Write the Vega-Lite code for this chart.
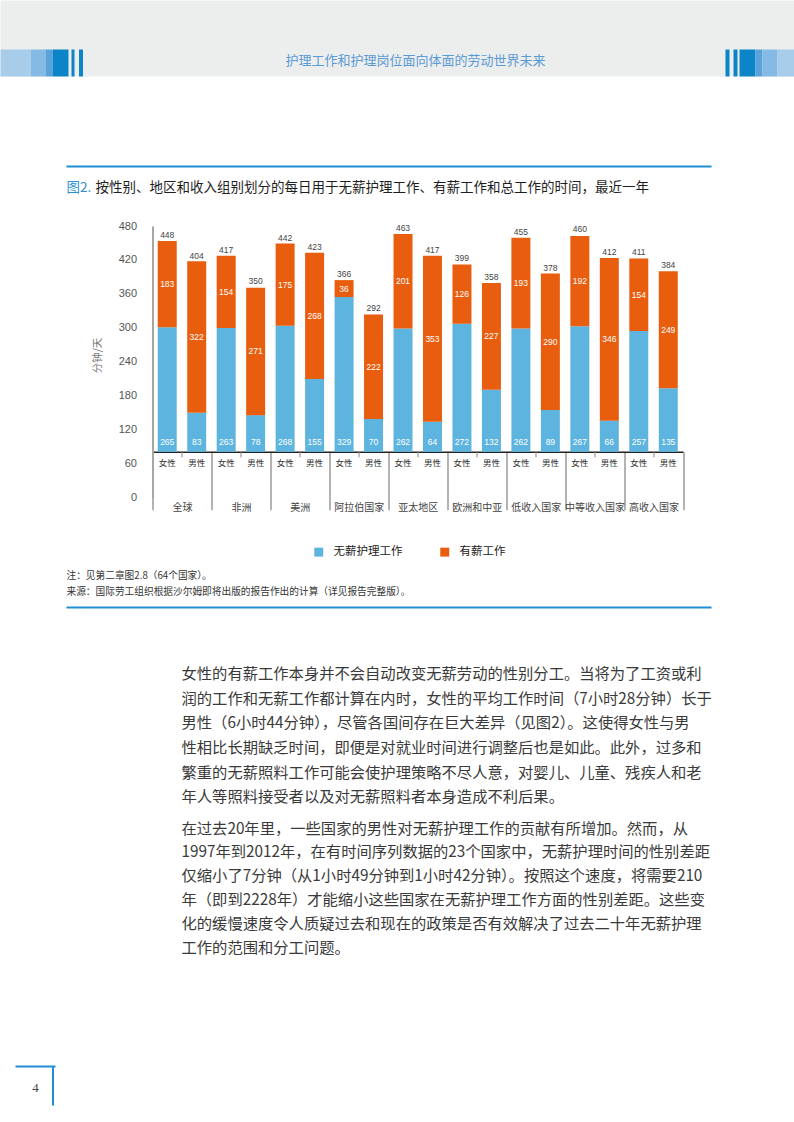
{
  "$schema": "https://vega.github.io/schema/vega-lite/v6.json",
  "width": 530.5,
  "height": 271,
  "autosize": {"type": "none"},
  "padding": {"left": 152.5, "top": 226, "right": 111, "bottom": 625},
  "background": "white",
  "config": {
    "view": {"stroke": null},
    "font": "Noto Sans CJK SC",
    "axis": {"labelFont": "Noto Sans CJK SC", "titleFont": "Noto Sans CJK SC", "grid": false, "titleFontWeight": "normal"},
    "axisY": {"labelOverlap": false, "tickCount": 20},
    "legend": {"labelFont": "Noto Sans CJK SC"}
  },
  "data": {
    "values": [
      {"group": "全球", "sex": "女性", "unpaid": 265, "paid": 183, "total": 448},
      {"group": "全球", "sex": "男性", "unpaid": 83, "paid": 322, "total": 404},
      {"group": "非洲", "sex": "女性", "unpaid": 263, "paid": 154, "total": 417},
      {"group": "非洲", "sex": "男性", "unpaid": 78, "paid": 271, "total": 350},
      {"group": "美洲", "sex": "女性", "unpaid": 268, "paid": 175, "total": 442},
      {"group": "美洲", "sex": "男性", "unpaid": 155, "paid": 268, "total": 423},
      {"group": "阿拉伯国家", "sex": "女性", "unpaid": 329, "paid": 36, "total": 366},
      {"group": "阿拉伯国家", "sex": "男性", "unpaid": 70, "paid": 222, "total": 292},
      {"group": "亚太地区", "sex": "女性", "unpaid": 262, "paid": 201, "total": 463},
      {"group": "亚太地区", "sex": "男性", "unpaid": 64, "paid": 353, "total": 417},
      {"group": "欧洲和中亚", "sex": "女性", "unpaid": 272, "paid": 126, "total": 399},
      {"group": "欧洲和中亚", "sex": "男性", "unpaid": 132, "paid": 227, "total": 358},
      {"group": "低收入国家", "sex": "女性", "unpaid": 262, "paid": 193, "total": 455},
      {"group": "低收入国家", "sex": "男性", "unpaid": 89, "paid": 290, "total": 378},
      {"group": "中等收入国家", "sex": "女性", "unpaid": 267, "paid": 192, "total": 460},
      {"group": "中等收入国家", "sex": "男性", "unpaid": 66, "paid": 346, "total": 412},
      {"group": "高收入国家", "sex": "女性", "unpaid": 257, "paid": 154, "total": 411},
      {"group": "高收入国家", "sex": "男性", "unpaid": 135, "paid": 249, "total": 384}
    ]
  },
  "resolve": {"scale": {"x": "independent"}, "axis": {"x": "independent"}},
  "layer": [
    {
      "encoding": {
        "x": {
          "field": "group", "type": "nominal",
          "scale": {"domain": ["全球", "非洲", "美洲", "阿拉伯国家", "亚太地区", "欧洲和中亚", "低收入国家", "中等收入国家", "高收入国家"], "paddingInner": 0, "paddingOuter": 0},
          "axis": {
            "orient": "bottom", "offset": -45.2,
            "domainColor": "#222222", "domainWidth": 1.5,
            "tickBand": "extent", "tickSize": 58, "tickColor": "#9a9a9a", "tickWidth": 1.5,
            "labelPadding": -7, "labelFontSize": 10, "labelColor": "#444444", "labelAngle": 0, "labelLimit": 70,
            "title": [
              "女性的有薪工作本身并不会自动改变无薪劳动的性别分工。当将为了工资或利",
              "润的工作和无薪工作都计算在内时，女性的平均工作时间（7小时28分钟）长于",
              "男性（6小时44分钟），尽管各国间存在巨大差异（见图2）。这使得女性与男",
              "性相比长期缺乏时间，即便是对就业时间进行调整后也是如此。此外，过多和",
              "繁重的无薪照料工作可能会使护理策略不尽人意，对婴儿、儿童、残疾人和老",
              "年人等照料接受者以及对无薪照料者本身造成不利后果。"
            ],
            "titleX": 28.5, "titleY": 215, "titleAlign": "left", "titleBaseline": "top",
            "titleFontSize": 15.3, "titleLineHeight": 24.6, "titleColor": "#3a3a3a"
          }
        },
        "xOffset": {"field": "sex", "type": "nominal", "scale": {"domain": ["女性", "男性"], "paddingInner": 0.356, "paddingOuter": 0.178}}
      },
      "layer": [
        {
          "transform": [{"fold": ["unpaid", "paid"], "as": ["type", "minutes"]}],
          "mark": {"type": "bar"},
          "encoding": {
            "y": {
              "field": "minutes", "type": "quantitative", "stack": "zero", "title": "分钟/天",
              "scale": {"domain": [-96, 480], "nice": false, "zero": false},
              "axis": {
                "orient": "left", "values": [480, 408, 336, 264, 192, 120, 48, -24, -96], "tickCount": 20,
                "labelExpr": "format((datum.value + 96) * 5 / 6, 'd')", "labelOverlap": false,
                "domainColor": "#a6a6a6", "domainWidth": 2, "ticks": false,
                "labelPadding": 16, "labelFontSize": 11, "labelColor": "#555555", "labelFont": "Liberation Sans",
                "titleX": -55.5, "titleY": 129, "titleAlign": "center", "titleBaseline": "middle", "titleAngle": 270,
                "titleFontSize": 10.5, "titleColor": "#777777"
              }
            },
            "color": {
              "field": "type", "type": "nominal",
              "scale": {"domain": ["unpaid", "paid"], "range": ["#5DB4DE", "#E85D0E"]},
              "legend": {
                "orient": "none", "legendX": 160.5, "legendY": 320, "direction": "horizontal", "title": null,
                "symbolType": "square", "symbolSize": 80, "symbolStrokeWidth": 0,
                "labelFontSize": 11.5, "labelColor": "#222222", "columnPadding": 36, "labelOffset": 9,
                "labelExpr": "datum.value === 'unpaid' ? '无薪护理工作' : '有薪工作'"
              }
            },
            "order": {"field": "type", "sort": "descending"}
          }
        },
        {
          "transform": [{"fold": ["unpaid", "paid"], "as": ["type", "minutes"]}],
          "mark": {"type": "text", "color": "white", "fontSize": 8.5, "font": "Liberation Sans", "baseline": "middle"},
          "encoding": {
            "y": {"field": "minutes", "type": "quantitative", "stack": "zero", "bandPosition": 0.5, "title": "分钟/天"},
            "detail": {"field": "type"},
            "order": {"field": "type", "sort": "descending"},
            "text": {"condition": {"test": "datum.type === 'paid'", "field": "minutes", "type": "quantitative"}, "value": ""}
          }
        },
        {
          "mark": {"type": "text", "color": "white", "fontSize": 8.5, "font": "Liberation Sans", "baseline": "middle", "dy": -10},
          "encoding": {
            "y": {"datum": 0, "type": "quantitative", "title": "分钟/天"},
            "text": {"field": "unpaid", "type": "quantitative"}
          }
        },
        {
          "mark": {"type": "text", "color": "#444444", "fontSize": 8.5, "font": "Liberation Sans", "baseline": "middle", "dy": -6},
          "encoding": {
            "y": {"field": "total", "type": "quantitative", "title": "分钟/天"},
            "text": {"field": "total", "type": "quantitative"}
          }
        },
        {
          "mark": {"type": "text", "color": "#333333", "fontSize": 8.5, "baseline": "middle"},
          "encoding": {
            "y": {"datum": -23.4, "type": "quantitative", "title": "分钟/天"},
            "text": {"field": "sex", "type": "nominal"}
          }
        }
      ]
    },
    {
      "mark": {"type": "point", "opacity": 0},
      "encoding": {
        "x": {
          "field": "group", "type": "nominal",
          "scale": {"domain": ["全球", "非洲", "美洲", "阿拉伯国家", "亚太地区", "欧洲和中亚", "低收入国家", "中等收入国家", "高收入国家"], "paddingInner": 0, "paddingOuter": 0},
          "axis": {
            "orient": "bottom", "offset": -45.2, "domain": false, "labels": false,
            "ticks": true, "tickSize": 5, "tickColor": "#9a9a9a", "tickWidth": 1.2,
            "title": [
              "在过去20年里，一些国家的男性对无薪护理工作的贡献有所增加。然而，从",
              "1997年到2012年，在有时间序列数据的23个国家中，无薪护理时间的性别差距",
              "仅缩小了7分钟（从1小时49分钟到1小时42分钟）。按照这个速度，将需要210",
              "年（即到2228年）才能缩小这些国家在无薪护理工作方面的性别差距。这些变",
              "化的缓慢速度令人质疑过去和现在的政策是否有效解决了过去二十年无薪护理",
              "工作的范围和分工问题。"
            ],
            "titleX": 28.5, "titleY": 369.4, "titleAlign": "left", "titleBaseline": "top",
            "titleFontSize": 15.3, "titleLineHeight": 23.8, "titleColor": "#3a3a3a"
          }
        }
      }
    },
    {
      "mark": {"type": "point", "opacity": 0},
      "encoding": {
        "x": {
          "field": "group", "type": "nominal", "sort": null,
          "scale": {"range": [-152.5, 641.5], "paddingInner": 0, "paddingOuter": 0},
          "axis": {
            "orient": "top", "offset": 188, "domainColor": "#ECEDED", "domainWidth": 76,
            "ticks": false, "labels": false,
            "title": "护理工作和护理岗位面向体面的劳动世界未来",
            "titleX": 262.5, "titleY": 22, "titleAlign": "center", "titleBaseline": "middle",
            "titleFontSize": 13, "titleColor": "#5B9BD5"
          }
        }
      }
    },
    {"mark": {"type": "point", "opacity": 0}, "encoding": {"x": {"field": "group", "type": "nominal", "sort": null, "scale": {"range": [-152.5, -122.5]}, "axis": {"orient": "top", "offset": 163.5, "domainColor": "#A8CDEA", "domainWidth": 27, "ticks": false, "labels": false, "title": null}}}},
    {"mark": {"type": "point", "opacity": 0}, "encoding": {"x": {"field": "group", "type": "nominal", "sort": null, "scale": {"range": [-122.5, -107.5]}, "axis": {"orient": "top", "offset": 163.5, "domainColor": "#85BAE4", "domainWidth": 27, "ticks": false, "labels": false, "title": null}}}},
    {"mark": {"type": "point", "opacity": 0}, "encoding": {"x": {"field": "group", "type": "nominal", "sort": null, "scale": {"range": [-107.5, -100.5]}, "axis": {"orient": "top", "offset": 163.5, "domainColor": "#5AA3DA", "domainWidth": 27, "ticks": false, "labels": false, "title": null}}}},
    {"mark": {"type": "point", "opacity": 0}, "encoding": {"x": {"field": "group", "type": "nominal", "sort": null, "scale": {"range": [-100.5, -84.5]}, "axis": {"orient": "top", "offset": 163.5, "domainColor": "#0B85C8", "domainWidth": 27, "ticks": false, "labels": false, "title": null}}}},
    {"mark": {"type": "point", "opacity": 0}, "encoding": {"x": {"field": "group", "type": "nominal", "sort": null, "scale": {"range": [-81.5, -78.5]}, "axis": {"orient": "top", "offset": 163.5, "domainColor": "#0B85C8", "domainWidth": 27, "ticks": false, "labels": false, "title": null}}}},
    {"mark": {"type": "point", "opacity": 0}, "encoding": {"x": {"field": "group", "type": "nominal", "sort": null, "scale": {"range": [-74, -70]}, "axis": {"orient": "top", "offset": 163.5, "domainColor": "#0B85C8", "domainWidth": 27, "ticks": false, "labels": false, "title": null}}}},
    {"mark": {"type": "point", "opacity": 0}, "encoding": {"x": {"field": "group", "type": "nominal", "sort": null, "scale": {"range": [572.5, 576.5]}, "axis": {"orient": "top", "offset": 163.5, "domainColor": "#0B85C8", "domainWidth": 27, "ticks": false, "labels": false, "title": null}}}},
    {"mark": {"type": "point", "opacity": 0}, "encoding": {"x": {"field": "group", "type": "nominal", "sort": null, "scale": {"range": [580.5, 584.5]}, "axis": {"orient": "top", "offset": 163.5, "domainColor": "#0B85C8", "domainWidth": 27, "ticks": false, "labels": false, "title": null}}}},
    {"mark": {"type": "point", "opacity": 0}, "encoding": {"x": {"field": "group", "type": "nominal", "sort": null, "scale": {"range": [586.5, 602.5]}, "axis": {"orient": "top", "offset": 163.5, "domainColor": "#0B85C8", "domainWidth": 27, "ticks": false, "labels": false, "title": null}}}},
    {"mark": {"type": "point", "opacity": 0}, "encoding": {"x": {"field": "group", "type": "nominal", "sort": null, "scale": {"range": [602.5, 609.5]}, "axis": {"orient": "top", "offset": 163.5, "domainColor": "#5AA3DA", "domainWidth": 27, "ticks": false, "labels": false, "title": null}}}},
    {"mark": {"type": "point", "opacity": 0}, "encoding": {"x": {"field": "group", "type": "nominal", "sort": null, "scale": {"range": [609.5, 624.5]}, "axis": {"orient": "top", "offset": 163.5, "domainColor": "#85BAE4", "domainWidth": 27, "ticks": false, "labels": false, "title": null}}}},
    {"mark": {"type": "point", "opacity": 0}, "encoding": {"x": {"field": "group", "type": "nominal", "sort": null, "scale": {"range": [624.5, 641.5]}, "axis": {"orient": "top", "offset": 163.5, "domainColor": "#A8CDEA", "domainWidth": 27, "ticks": false, "labels": false, "title": null}}}},
    {
      "mark": {"type": "point", "opacity": 0},
      "encoding": {
        "x": {
          "field": "group", "type": "nominal", "sort": null,
          "scale": {"range": [-86.5, 558.5], "paddingInner": 0, "paddingOuter": 0},
          "axis": {
            "orient": "top", "offset": 60, "domainColor": "#1E8FD5", "domainWidth": 2,
            "ticks": false, "labels": false,
            "title": "图2.",
            "titleX": -86.5, "titleY": 21, "titleAlign": "left", "titleBaseline": "middle",
            "titleFontSize": 13.5, "titleColor": "#2E8FD0"
          }
        }
      }
    },
    {
      "mark": {"type": "point", "opacity": 0},
      "encoding": {
        "x": {
          "field": "group", "type": "nominal", "sort": null,
          "scale": {"range": [-86.5, 558.5], "paddingInner": 0, "paddingOuter": 0},
          "axis": {
            "orient": "top", "offset": 60, "domain": false,
            "ticks": false, "labels": false,
            "title": "按性别、地区和收入组别划分的每日用于无薪护理工作、有薪工作和总工作的时间，最近一年",
            "titleX": -57.5, "titleY": 21, "titleAlign": "left", "titleBaseline": "middle",
            "titleFontSize": 13.5, "titleColor": "#1e1e1e"
          }
        }
      }
    },
    {
      "mark": {"type": "point", "opacity": 0},
      "encoding": {
        "x": {
          "field": "group", "type": "nominal", "sort": null,
          "scale": {"range": [-86.5, 558.5], "paddingInner": 0, "paddingOuter": 0},
          "axis": {
            "orient": "bottom", "offset": 110, "domainColor": "#1E8FD5", "domainWidth": 2,
            "ticks": false, "labels": false,
            "title": ["注：见第二章图2.8（64个国家）。", "来源：国际劳工组织根据沙尔姆即将出版的报告作出的计算（详见报告完整版）。"],
            "titleX": -86.5, "titleY": -37, "titleAlign": "left", "titleBaseline": "top",
            "titleFontSize": 9.7, "titleLineHeight": 16, "titleColor": "#333333"
          }
        }
      }
    },
    {
      "mark": {"type": "point", "opacity": 0},
      "encoding": {
        "x": {
          "field": "group", "type": "nominal", "sort": null,
          "scale": {"range": [-137.5, -97.5], "paddingInner": 0, "paddingOuter": 0},
          "axis": {
            "orient": "bottom", "offset": 569, "domainColor": "#1E8FD5", "domainWidth": 2,
            "values": ["高收入国家"], "bandPosition": 1,
            "ticks": true, "tickSize": 39, "tickColor": "#1E8FD5", "tickWidth": 2, "labels": false,
            "title": "4",
            "titleX": -117.5, "titleY": 21, "titleAlign": "center", "titleBaseline": "middle",
            "titleFontSize": 13, "titleColor": "#444444", "titleFont": "Liberation Serif"
          }
        }
      }
    }
  ]
}
